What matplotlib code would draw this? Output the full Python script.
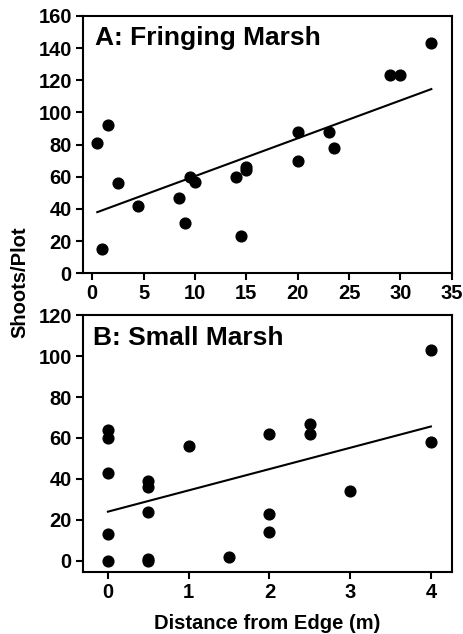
import numpy as np
import matplotlib
matplotlib.use("Agg")
import matplotlib.pyplot as plt

plt.rcParams['font.family'] = ['Liberation Sans', 'DejaVu Sans']
plt.rcParams['font.weight'] = 'bold'

# A: Fringing Marsh
dist_a = [0.5, 1, 1.5, 2.5, 4.5, 8.5, 9, 9.5, 10, 14, 14.5, 15, 15, 20, 20, 23, 23.5, 29, 30, 33]
shoots_a = [81, 15, 92, 56, 42, 47, 31, 60, 57, 60, 23, 66, 64, 88, 70, 88, 78, 123, 123, 143]

# B: Small Marsh
dist_b = [0, 0, 0, 0, 0, 0.5, 0.5, 0.5, 0.5, 0.5, 1, 1.5, 2, 2, 2, 2.5, 2.5, 3, 4, 4]
shoots_b = [64, 60, 43, 13, 0, 39, 36, 24, 1, 0, 56, 2, 62, 23, 14, 67, 62, 34, 103, 58]

# fitted lines (intercept, slope)
fit_a = (36.8, 2.354)
fit_b = (24.0, 10.4)

FS = 14.5

fig = plt.figure(figsize=(4.63, 6.34), dpi=100)
ax1 = fig.add_axes([0.179, 0.569, 0.797, 0.406])
ax2 = fig.add_axes([0.179, 0.098, 0.797, 0.405])

def style(ax):
    for s in ax.spines.values():
        s.set_linewidth(1.5)
    ax.tick_params(direction='out', length=5, width=1.5, labelsize=FS, pad=3)

# panel A
ax1.scatter(dist_a, shoots_a, s=60, color='black', zorder=3)
xa = np.array([min(dist_a), max(dist_a)])
ax1.plot(xa, fit_a[0] + fit_a[1] * xa, color='black', lw=1.5)
ax1.set_xlim(-0.9, 35)
ax1.set_ylim(0, 160)
ax1.set_xticks(range(0, 36, 5))
ax1.set_yticks(range(0, 161, 20))
ax1.text(0.033, 0.887, "A: Fringing Marsh", transform=ax1.transAxes, fontsize=19, fontweight='bold')
style(ax1)

# panel B
ax2.scatter(dist_b, shoots_b, s=60, color='black', zorder=3)
xb = np.array([min(dist_b), max(dist_b)])
ax2.plot(xb, fit_b[0] + fit_b[1] * xb, color='black', lw=1.5)
ax2.set_xlim(-0.31, 4.26)
ax2.set_ylim(-5.4, 120)
ax2.set_xticks(range(0, 5))
ax2.set_yticks(range(0, 121, 20))
ax2.text(0.027, 0.883, "B: Small Marsh", transform=ax2.transAxes, fontsize=19, fontweight='bold')
ax2.set_xlabel("Distance from Edge (m)", fontsize=FS, fontweight='bold', labelpad=9)
style(ax2)

fig.text(0.043, 0.555, "Shoots/Plot", rotation=90, ha='center', va='center', fontsize=FS, fontweight='bold')

fig.savefig("out.png", dpi=100)
